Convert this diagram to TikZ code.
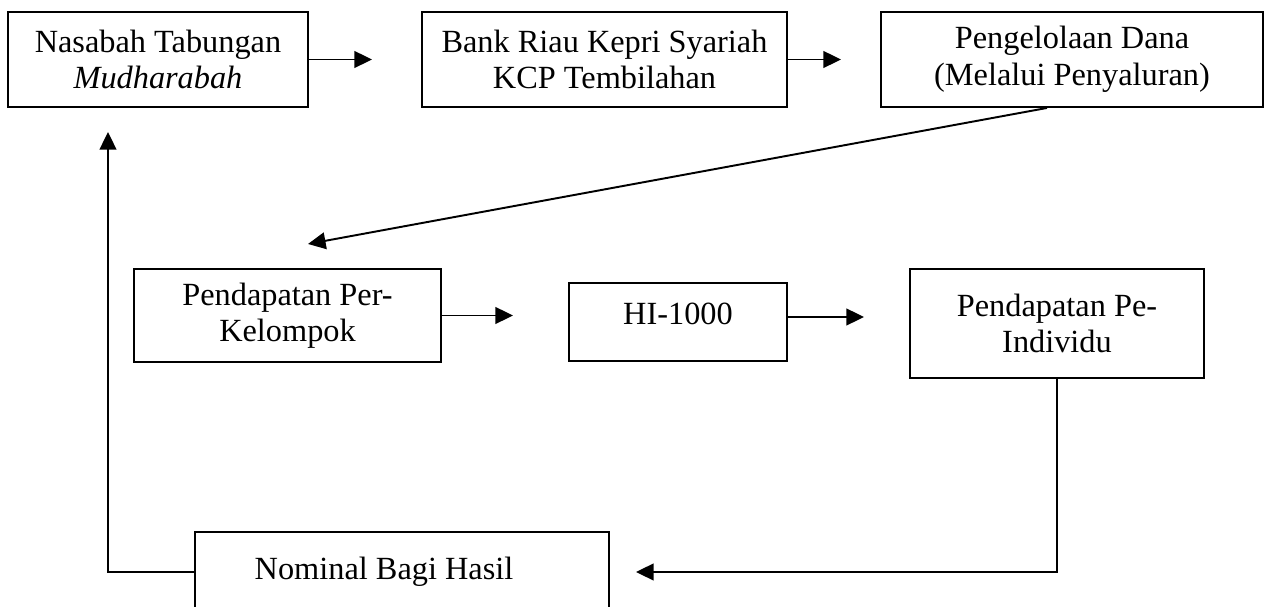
\documentclass[tikz,border=0pt]{standalone}
\usepackage{fontspec}
\setmainfont{Liberation Serif}
\usetikzlibrary{arrows.meta}

\tikzset{
  kotak/.style={draw, line width=1.1pt, rectangle, align=center, inner sep=2pt,
    font=\fontsize{18.4pt}{20.8pt}\selectfont},
  panah/.style={line width=1.1pt, -{Triangle[length=10pt,width=9.5pt]}}
}

\begin{document}
\begin{tikzpicture}[x=0.02cm, y=-0.02cm]
    \useasboundingbox (0,0) rectangle (1268,607);
    % baris atas
    \node[kotak, minimum width=6cm, minimum height=1.9cm] (nasabah) at (158,59.5) {Nasabah Tabungan\\\textit{Mudharabah}};
    \node[kotak, minimum width=7.3cm, minimum height=1.9cm] (bank) at (604.5,59.5) {Bank Riau Kepri Syariah\\KCP Tembilahan};
    \node[kotak, minimum width=7.64cm, minimum height=1.9cm] (dana) at (1072,59.5) {Pengelolaan Dana\\(Melalui Penyaluran)};
    % baris tengah
    \node[kotak, minimum width=6.14cm, minimum height=1.86cm] (kelompok) at (287.5,315.5) {Pendapatan Per-\\Kelompok};
    \node[kotak, minimum width=4.36cm, minimum height=1.56cm, text depth=9pt] (hi) at (678,322) {HI-1000};
    \node[kotak, minimum width=5.88cm, minimum height=2.18cm] (individu) at (1057,323.5) {Pendapatan Pe-\\Individu};
    % baris bawah
    \node[kotak, minimum width=8.28cm, minimum height=1.6cm] (nominal) at (402,572) {Nominal Bagi Hasil\hspace{0.72cm}};

    % ujung panah
    \coordinate (ujung1) at (372,59.5);
    \coordinate (ujung2) at (841,59.5);
    \coordinate (ujung3) at (308,244);
    \coordinate (ujung4) at (513,315.5);
    \coordinate (ujung5) at (864,317);
    \coordinate (ujung6) at (636,572);
    \coordinate (ujung7) at (108,132);

    \draw[panah] (nasabah.east) -- (ujung1);
    \draw[panah] (bank.east) -- (ujung2);
    \draw[panah] ([xshift=-0.5cm]dana.south) -- (ujung3);
    \draw[panah] (kelompok.east) -- (ujung4);
    \draw[panah] ([yshift=0.1cm]hi.east) -- (ujung5);
    \draw[panah] (individu.south) |- (ujung6);
    \draw[panah] (nominal.west) -| (ujung7);
\end{tikzpicture}
\end{document}
